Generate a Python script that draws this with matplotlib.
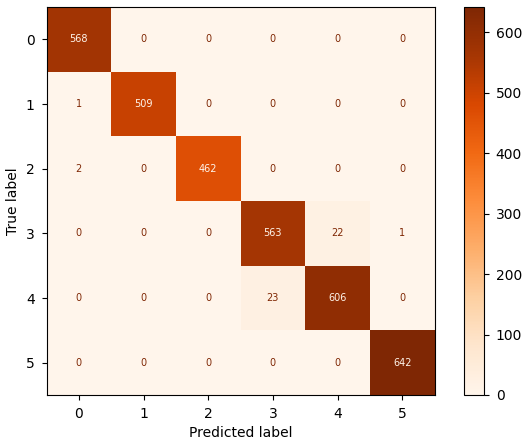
import numpy as np
import matplotlib
matplotlib.use("Agg")
import matplotlib.pyplot as plt

labels = ["0", "1", "2", "3", "4", "5"]
row0 = [568, 0, 0, 0, 0, 0]
row1 = [1, 509, 0, 0, 0, 0]
row2 = [2, 0, 462, 0, 0, 0]
row3 = [0, 0, 0, 563, 22, 1]
row4 = [0, 0, 0, 23, 606, 0]
row5 = [0, 0, 0, 0, 0, 642]
cm = np.array([row0, row1, row2, row3, row4, row5])

fig = plt.figure(figsize=(5.27, 4.46), dpi=100)
ax = fig.add_axes([46/527, 51/446, 389/527, 388/446])
cmap = plt.get_cmap("Oranges")
im = ax.imshow(cm, cmap=cmap, interpolation="nearest", vmin=cm.min(), vmax=cm.max())
cax = fig.add_axes([464/527, 51/446, 20/527, 388/446])
cb = fig.colorbar(im, cax=cax)
cb.ax.tick_params(labelsize=10, pad=5)

thresh = (cm.max() + cm.min()) / 2.0
cmin, cmax = cmap(0.0), cmap(1.0)
for i in range(cm.shape[0]):
    for j in range(cm.shape[1]):
        color = cmax if cm[i, j] < thresh else cmin
        ax.text(j, i, str(cm[i, j]), ha="center", va="center", color=color, fontsize=7)

ax.set_xticks(range(len(labels)))
ax.set_xticklabels(labels)
ax.set_yticks(range(len(labels)))
ax.set_yticklabels(labels)
ax.tick_params(labelsize=10, pad=5)
ax.set_xlabel("Predicted label", fontsize=10)
ax.set_ylabel("True label", fontsize=10)
fig.savefig("out.png", dpi=100)
